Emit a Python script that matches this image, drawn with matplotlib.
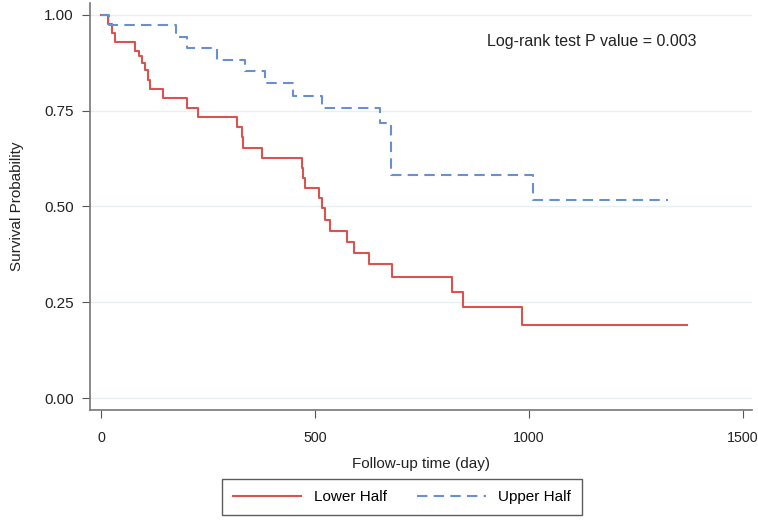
import matplotlib.pyplot as plt

plt.rcParams['font.family'] = ['Liberation Sans', 'DejaVu Sans']

# Kaplan-Meier steps (day, survival after the drop)
lower_days = [0, 16, 25, 33, 79, 87, 95, 103, 110, 114, 145, 200, 227, 317, 329, 332,
              375, 469, 472, 477, 508, 516, 524, 535, 574, 590, 625, 679, 819, 846, 983, 1369]
lower_surv = [1.0, 0.976, 0.952, 0.928, 0.906, 0.891, 0.874, 0.856, 0.830, 0.806, 0.782,
              0.756, 0.733, 0.708, 0.680, 0.652, 0.626, 0.600, 0.574, 0.547, 0.521, 0.495,
              0.465, 0.436, 0.408, 0.378, 0.349, 0.317, 0.276, 0.237, 0.190, 0.190]

upper_days = [0, 17, 175, 200, 271, 336, 383, 449, 517, 652, 677, 1010, 1325]
upper_surv = [1.0, 0.974, 0.943, 0.913, 0.881, 0.852, 0.823, 0.787, 0.756, 0.717,
              0.582, 0.517, 0.517]

x_ticks = [0, 500, 1000, 1500]
y_ticks = [0.0, 0.25, 0.5, 0.75, 1.0]

fig = plt.figure(figsize=(7.58, 5.22), dpi=100)
ax = fig.add_axes([0.119, 0.2146, 0.873, 0.78])

ax.step(lower_days, lower_surv, where='post', color='#d9534f', lw=1.5, label='Lower Half')
ax.step(upper_days, upper_surv, where='post', color='#6a8fd0', lw=1.5,
        linestyle=(0, (5, 3)), label='Upper Half')

ax.set_xlim(-26, 1521)
ax.set_ylim(-0.031, 1.031)
ax.set_xticks(x_ticks)
ax.set_yticks(y_ticks)
ax.set_yticklabels(['%.2f' % v for v in y_ticks])
ax.tick_params(labelsize=11, colors='#222222', length=6, color='#555555', pad=6)
ax.tick_params(axis='x', pad=9, labelsize=10.3)
ax.yaxis.grid(True, color='#e6eff1', lw=1)
ax.set_axisbelow(True)
for s in ['top', 'right']:
    ax.spines[s].set_visible(False)
for s in ['left', 'bottom']:
    ax.spines[s].set_color('#777777')
    ax.spines[s].set_linewidth(1.2)

ax.set_xlabel('Follow-up time (day)', fontsize=11, color='#222222', labelpad=9)
ax.set_ylabel('Survival Probability', fontsize=11, color='#222222', labelpad=14)
ax.text(0.60, 0.905, 'Log-rank test P value = 0.003', transform=ax.transAxes,
        fontsize=11.5, color='#222222', ha='left', va='center')

leg = fig.legend(loc='center', bbox_to_anchor=(0.53, 0.048), ncol=2, fontsize=11,
                 frameon=True, fancybox=False, edgecolor='#333333',
                 handlelength=4.5, columnspacing=2.0, borderpad=0.7)
leg.get_frame().set_linewidth(1.0)

fig.savefig('out.png', dpi=100)
